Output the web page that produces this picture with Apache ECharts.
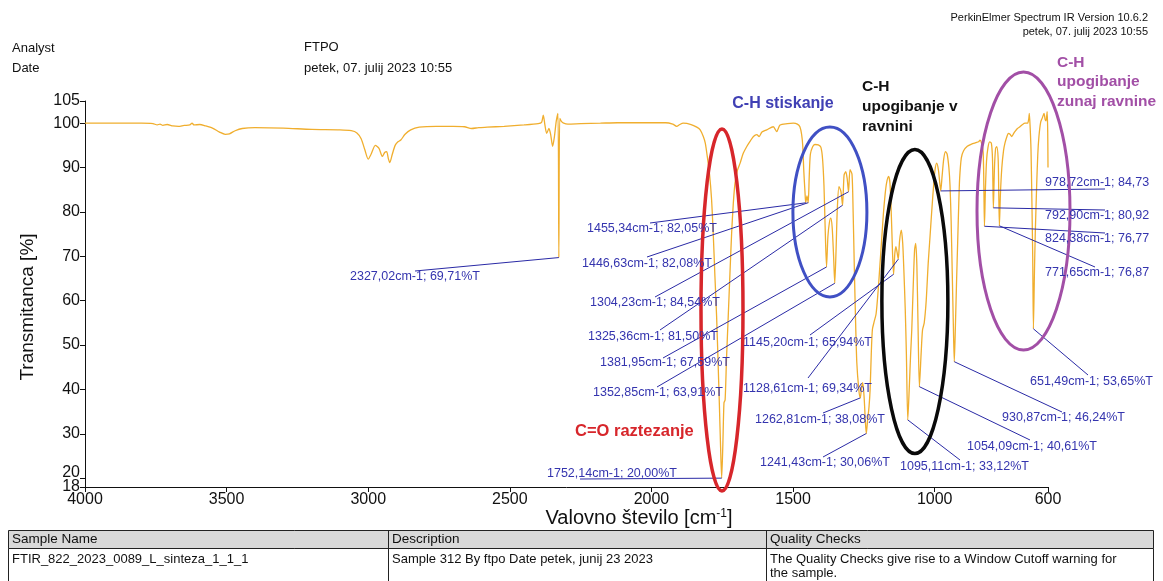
<!DOCTYPE html>
<html><head><meta charset="utf-8">
<script src="https://cdn.jsdelivr.net/npm/echarts@6/dist/echarts.min.js"></script>
<style>html,body{margin:0;padding:0;background:#fff}#c{width:1163px;height:581px}</style>
</head><body><div id="c"></div>
<script>
// ---- spectrum data (wavenumber cm-1, %T) ----
const wavenumbers = [4000,3900,3800,3760,3745,3735,3725,3710,3690,3670,3650,3630,3622,3615,3595,3575,3550,3525,3505,3490,3470,3445,3400,3300,3200,3100,3060,3040,3025,3012,3000,2990,2975,2962,2950,2942,2935,2929,2924,2915,2905,2895,2885,2870,2850,2820,2760,2700,2660,2635,2610,2580,2520,2450,2400,2388,2382,2376,2370,2362,2356,2349,2343,2336,2330,2327.02,2324,2318,2310,2295,2250,2180,2120,2060,2000,1950,1925,1911,1900,1888,1860,1840,1828,1817,1810,1803,1795,1788,1782,1776,1770,1765,1760,1756,1752.14,1748,1744,1740,1735,1729,1723,1717,1711,1705,1697,1687,1676,1664,1652,1640,1628,1620,1610,1593,1570,1558,1546,1520,1499,1485,1476,1470,1466,1462,1458,1455.34,1451,1446.63,1443,1439,1431,1423,1411,1402,1396,1391,1387,1381.95,1377,1372,1367,1362,1357,1352.85,1348,1344,1338,1331,1325.36,1320,1314,1309,1304.23,1299,1292,1288,1284,1280,1275,1268,1262.81,1258,1254,1249,1245,1241.43,1237,1232,1228,1224,1220,1214,1207,1200,1193,1186,1181,1175,1170,1163,1158,1153,1149,1145.2,1141,1137,1133,1128.61,1124,1118,1113,1109,1104,1100,1095.11,1090,1085,1081,1076,1071,1067,1063,1059,1054.09,1048,1043,1037,1030,1023,1017,1011,1005,999,993,987,982,978.72,974,968,962,956,950,946,942,938,934,930.87,927,923,919,915,912,906,898,885,870,855,845,840,835,829,826.5,824.38,821,817,812,806,800,796,792.9,789,785,781,776,774,771.65,768,763,757,752,745,740,734,728,722,717,708,699,690,681,672,668,666,663,660,657,654,651.49,648,645,640,636,632,626,620,614,610,607,603,601,600];
const transmittance = [100.0,100.0,100.0,99.9,99.6,99.8,99.5,99.7,99.4,99.3,99.5,99.6,100.0,99.6,99.7,99.4,98.9,98.0,97.5,97.6,98.3,98.8,99.0,98.9,98.6,98.5,98.3,97.8,96.5,94.0,91.9,93.0,95.0,94.3,92.5,93.4,93.6,92.0,91.1,93.0,95.0,95.8,96.2,97.5,98.5,99.1,99.3,99.3,99.2,98.8,99.0,99.1,99.3,99.6,99.9,100.2,101.8,99.5,97.7,98.8,97.5,94.8,96.8,100.5,102.2,69.71,101.1,100.4,100.0,99.8,99.9,100.0,100.1,100.1,100.1,100.1,99.8,99.3,99.7,100.0,99.7,99.1,98.5,97.0,95.5,92.5,88.5,83.0,75.2,65.5,56.4,46.5,36.0,27.0,20.0,27.5,37.0,37.6,47.0,56.4,66.0,75.2,82.0,86.5,89.3,91.0,93.2,94.7,95.9,97.0,97.4,97.0,98.0,98.5,99.2,98.1,99.6,99.9,100.0,99.8,99.2,97.5,95.0,89.0,84.5,82.05,83.6,82.08,88.0,93.0,94.7,95.2,95.1,94.6,92.0,86.0,77.0,67.59,74.5,77.5,78.6,76.5,70.0,63.91,72.0,80.5,85.7,84.6,81.5,88.3,89.1,87.5,84.54,89.5,88.5,80.0,68.0,57.0,46.0,40.0,38.08,40.5,41.5,38.0,33.0,30.06,33.0,36.0,40.0,48.0,53.5,55.2,57.0,62.0,68.4,75.0,79.7,84.0,86.5,88.0,86.5,79.0,71.0,65.94,70.5,72.2,71.0,69.34,73.5,75.9,73.0,67.0,58.0,48.0,33.12,40.0,48.0,53.4,63.0,71.5,72.9,68.0,55.0,40.61,48.0,53.4,55.0,60.0,68.4,74.0,79.7,85.0,89.4,91.0,89.5,86.5,84.73,88.0,92.0,93.6,93.0,90.0,86.0,78.0,66.0,54.0,46.24,54.0,64.0,73.0,82.0,87.5,92.2,93.8,94.8,95.3,95.6,95.8,96.2,95.6,93.5,86.0,76.77,85.0,91.5,94.5,95.8,95.5,92.0,80.92,90.0,94.3,94.7,92.0,85.0,76.87,84.0,90.0,93.8,95.5,97.0,97.7,97.5,97.0,97.6,98.1,98.8,99.2,99.7,100.0,100.0,101.0,102.2,99.0,94.0,83.0,70.0,53.65,66.0,75.0,86.0,93.0,97.0,100.2,101.2,102.2,100.8,100.5,102.6,98.0,90.0];

// ---- annotated peaks ----
const peakWn = [2327.02,1455.34,1446.63,1304.23,1325.36,1381.95,1352.85,1752.14,1145.20,1128.61,1262.81,1241.43,1095.11,1054.09,930.87,651.49,978.72,792.90,824.38,771.65];
const peakT  = [69.71,82.05,82.08,84.54,81.50,67.59,63.91,20.00,65.94,69.34,38.08,30.06,33.12,40.61,46.24,53.65,84.73,80.92,76.77,76.87];

// ---- tick labels ----
const xTicks = [4000,3500,3000,2500,2000,1500,1000,600];
const yTicks = [18,20,30,40,50,60,70,80,90,100,105];

// ---- layout (pixels): label left x, label centre y, leader end x, leader end y, optional max width ----
const labelLayout = [
  [350,277,415,271],[587,229,650,223],[582,264,647,257],[590,303,655,297],[588,337,660,330],
  [600,363,663,358],[593,393,657,387],[547,473.5,580,479],[743,343,810,335],[743,389,808,378],
  [755,420,823,413],[760,463,823,457],[900,467,960,460],[967,447,1030,440],[1002,418,1062,412],
  [1030,382,1088,375],[1045,183,1105,189,112],[1045,216,1105,210,112],[1045,239,1105,233,112],[1045,273,1095,267,112]
];
// group ellipses: centre in data coords, radii in px
const groupEllipses = [
  {wn:1751, t:57.9, rx:21, ry:181, color:'#d7262b', lw:3.5},
  {wn:1370, t:80.0, rx:37, ry:85, color:'#4050c4', lw:3},
  {wn:1070, t:59.8, rx:33, ry:152, color:'#0a0a0a', lw:3.5},
  {wn:686.5, t:80.2, rx:46.5, ry:139, color:'#a24fa6', lw:3}
];

const FF = '"Liberation Sans", Arial, Helvetica, sans-serif';
const chart = echarts.init(document.getElementById('c'), null, {renderer:'canvas'});
const seriesData = wavenumbers.map((w,i)=>[w, transmittance[i]]);
// put the bottom value last so the min/max label overlap check does not drop "20"
const yTickOrder = yTicks.slice(1).concat(yTicks.slice(0,1));

chart.setOption({
  animation:false,
  backgroundColor:'#ffffff',
  grid:{left:85,right:115,top:101,bottom:94,outerBoundsMode:'none'},
  xAxis:{
    type:'value', min:600, max:4000, inverse:true,
    axisLine:{show:true,onZero:false,lineStyle:{color:'#111',width:1}},
    axisTick:{show:true,length:5,customValues:xTicks,lineStyle:{color:'#111'}},
    axisLabel:{customValues:xTicks,color:'#111',fontSize:16,fontFamily:FF,margin:5,
      showMinLabel:true,showMaxLabel:true,hideOverlap:false,formatter:v=>String(v)},
    splitLine:{show:false}
  },
  yAxis:{
    type:'value', min:18, max:105,
    axisLine:{show:true,onZero:false,lineStyle:{color:'#111',width:1}},
    axisTick:{show:true,length:5,customValues:yTickOrder,lineStyle:{color:'#111'}},
    axisLabel:{customValues:yTickOrder,color:'#111',fontSize:16,fontFamily:FF,margin:5,lineHeight:2,
      showMinLabel:true,showMaxLabel:true,hideOverlap:false,
      formatter:v=> v===20 ? '{up|20}' : String(v),
      rich:{up:{fontSize:16,fontFamily:FF,color:'#111',lineHeight:2,padding:[0,0,12,0]}}},
    splitLine:{show:false}
  },
  series:[{type:'line',data:seriesData,showSymbol:false,symbol:'none',smooth:0.25,
    lineStyle:{color:'#f0ae2e',width:1.3},z:2}]
});

const fmt = v => v.toFixed(2).replace('.', ',');
const g = [];
function txt(text,x,y,font,fill,align,extra){
  const st = Object.assign({text,x,y,font,fill,textAlign:align||'left',textVerticalAlign:'middle'},extra||{});
  g.push({type:'text',z:20,style:st});
}
// header
txt('Analyst',12,48,'13px '+FF,'#111');
txt('Date',12,68,'13px '+FF,'#111');
txt('FTPO',304,47,'13px '+FF,'#111');
txt('petek, 07. julij 2023 10:55',304,68,'13px '+FF,'#111');
txt('PerkinElmer Spectrum IR Version 10.6.2',1148,18,'11px '+FF,'#111','right');
txt('petek, 07. julij 2023 10:55',1148,32,'11px '+FF,'#111','right');
// axis titles
g.push({type:'text',z:20,x:28,y:307,rotation:Math.PI/2,style:{text:'Transmitanca [%]',x:0,y:0,font:'19px '+FF,fill:'#111',textAlign:'center',textVerticalAlign:'middle'}});
g.push({type:'text',z:20,style:{text:'{a|Valovno število [cm}{s|-1}{a|]}',x:639,y:518,textAlign:'center',textVerticalAlign:'middle',
  rich:{a:{fontSize:20,fontFamily:FF,fill:'#111',color:'#111'},s:{fontSize:12,fontFamily:FF,color:'#111',fill:'#111',verticalAlign:'top'}}}});

// peak annotations
peakWn.forEach((w,i)=>{
  const p = chart.convertToPixel({gridIndex:0},[w,peakT[i]]);
  const L = labelLayout[i];
  g.push({type:'line',z:15,shape:{x1:p[0],y1:p[1],x2:L[2],y2:L[3]},style:{stroke:'#2a2aa6',lineWidth:1}});
  const extra = L[4] ? {width:L[4],overflow:'truncate',ellipsis:''} : {};
  txt(fmt(w)+'cm-1; '+fmt(peakT[i])+'%T',L[0],L[1],'12.5px '+FF,'#3434ae','left',extra);
});
// group ellipses
groupEllipses.forEach(e=>{
  const p = chart.convertToPixel({gridIndex:0},[e.wn,e.t]);
  g.push({type:'ellipse',z:18,shape:{cx:p[0],cy:p[1],rx:e.rx,ry:e.ry},style:{fill:'none',stroke:e.color,lineWidth:e.lw}});
});
// group titles
txt('C-H stiskanje',783,104,'bold 16px '+FF,'#4040b4','center');
txt('C-H',862,87,'bold 15.5px '+FF,'#111');
txt('upogibanje v',862,107,'bold 15.5px '+FF,'#111');
txt('ravnini',862,127,'bold 15.5px '+FF,'#111');
txt('C-H',1057,63,'bold 15.5px '+FF,'#a24fa6');
txt('upogibanje',1057,82,'bold 15.5px '+FF,'#a24fa6');
txt('zunaj ravnine',1057,102,'bold 15.5px '+FF,'#a24fa6');
txt('C=O raztezanje',575,431,'bold 16.5px '+FF,'#d7262b');

// table
g.push({type:'rect',z:5,shape:{x:8.5,y:530.5,width:1145,height:18},style:{fill:'#d9d9d9',stroke:'#222',lineWidth:1}});
g.push({type:'rect',z:5,shape:{x:8.5,y:548.5,width:1145,height:45},style:{fill:'#ffffff',stroke:'#222',lineWidth:1}});
g.push({type:'line',z:6,shape:{x1:388.5,y1:530,x2:388.5,y2:581},style:{stroke:'#222',lineWidth:1}});
g.push({type:'line',z:6,shape:{x1:766.5,y1:530,x2:766.5,y2:581},style:{stroke:'#222',lineWidth:1}});
txt('Sample Name',12,539.5,'13.5px '+FF,'#111');
txt('Description',392,539.5,'13.5px '+FF,'#111');
txt('Quality Checks',770,539.5,'13.5px '+FF,'#111');
txt('FTIR_822_2023_0089_L_sinteza_1_1_1',12,559,'13px '+FF,'#111');
txt('Sample 312 By ftpo Date petek, junij 23 2023',392,559,'13px '+FF,'#111');
txt('The Quality Checks give rise to a Window Cutoff warning for',770,559,'13px '+FF,'#111');
txt('the sample.',770,573,'13px '+FF,'#111');

chart.setOption({graphic:{elements:g}});
</script>
</body></html>
